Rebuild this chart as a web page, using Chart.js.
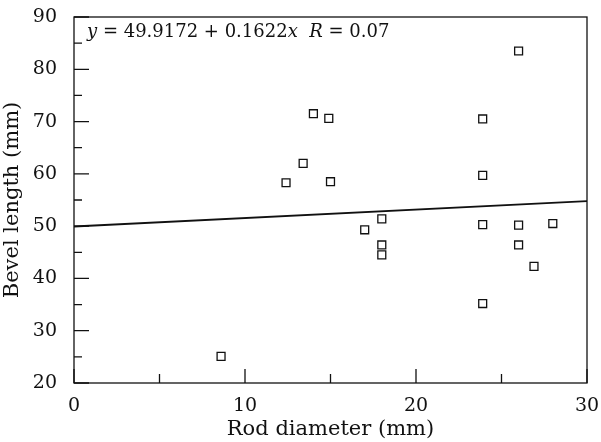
<!DOCTYPE html>
<html>
<head>
<meta charset="utf-8">
<script src="https://cdn.jsdelivr.net/npm/chart.js@4"></script>
<style>
  body { margin: 0; background: #fff; }
  #wrap { width: 601px; height: 442px; }
</style>
</head>
<body>
<div id="wrap"><canvas id="mycanvas" width="601" height="442"></canvas></div>
<script>
// rod diameter (mm) and bevel length (mm)
var rodDiameter = [8.6, 12.4, 13.4, 14.0, 14.9, 15.0, 17.0, 18.0, 18.0, 18.0, 23.9, 23.9, 23.9, 23.9, 26.0, 26.0, 26.0, 26.9, 28.0];
var bevelLength = [25.1, 58.3, 62.0, 71.5, 70.6, 58.5, 49.3, 51.4, 46.4, 44.5, 70.5, 59.7, 50.3, 35.2, 83.5, 50.2, 46.4, 42.3, 50.5];

// regression line from the caption
var intercept = 49.9172;
var slope = 0.1622;
var rValue = "0.07";

var xTicks = [0, 10, 20, 30];
var yTicks = [20, 30, 40, 50, 60, 70, 80, 90];

var points = [];
for (var i in rodDiameter) {
	points.push({x: rodDiameter[i], y: bevelLength[i]});
}
var fitLine = [
	{x: 0, y: intercept + slope * 0},
	{x: 30, y: intercept + slope * 30}
];

var serif = "'DejaVu Serif', serif";

// box, inward ticks and the equation text
var framePlugin = {
	id: 'frame',
	afterDraw: function(chart) {
		var c = chart.ctx, a = chart.chartArea;
		var xs = chart.scales.x, ys = chart.scales.y;
		c.save();
		c.strokeStyle = '#111';
		c.lineWidth = 1.3;
		c.strokeRect(a.left, a.top, a.right - a.left, a.bottom - a.top);
		c.beginPath();
		for (var v = 0; v <= 30; v += 5) {
			var px = xs.getPixelForValue(v);
			var len = (v % 10 === 0) ? 14 : 9;
			c.moveTo(px, a.bottom);
			c.lineTo(px, a.bottom - len);
		}
		for (var w = 20; w <= 90; w += 5) {
			var py = ys.getPixelForValue(w);
			var l2 = (w % 10 === 0) ? 15 : 8;
			c.moveTo(a.left, py);
			c.lineTo(a.left + l2, py);
		}
		c.stroke();

		var parts = [
			["italic", "y"], ["normal", " = " + intercept + " + " + slope], ["italic", "x"],
			["normal", "  "], ["italic", "R"], ["normal", " = " + rValue]
		];
		var tx = a.left + 13, ty = a.top + 20;
		c.fillStyle = '#111';
		c.textBaseline = 'alphabetic';
		for (var k in parts) {
			c.font = parts[k][0] + " 18px " + serif;
			c.fillText(parts[k][1], tx, ty);
			tx += c.measureText(parts[k][1]).width;
		}
		c.restore();
	}
};

var ctx = document.getElementById('mycanvas');
var chart = new Chart(ctx, {
	type: 'scatter',
	data: {
		datasets: [
		{
			label: "data",
			data: points,
			pointStyle: 'rect',
			pointRadius: 5.6,
			pointBorderWidth: 1.3,
			pointBorderColor: '#111',
			pointBackgroundColor: '#fff'
		},
		{
			label: "fit",
			type: 'line',
			data: fitLine,
			borderColor: '#111',
			borderWidth: 1.9,
			pointRadius: 0,
			fill: false
		}
		]
	},
	options: {
		responsive: false,
		animation: false,
		layout: { padding: { top: 17, right: 14, left: 0, bottom: 0 } },
		plugins: {
			legend: { display: false },
			tooltip: { enabled: false }
		},
		scales: {
			x: {
				type: 'linear',
				min: 0, max: 30,
				afterBuildTicks: function(s) { s.ticks = xTicks.map(function(v) { return {value: v}; }); },
				afterFit: function(s) { s.height = 59; s.paddingRight = 0; s.paddingLeft = 0; },
				grid: { display: false },
				border: { display: false },
				ticks: { color: '#111', padding: 4, font: { family: serif, size: 19 } },
				title: { display: true, text: 'Rod diameter (mm)', color: '#111', padding: { top: 0, bottom: 0 }, font: { family: serif, size: 21 } }
			},
			y: {
				type: 'linear',
				min: 20, max: 90,
				afterBuildTicks: function(s) { s.ticks = yTicks.map(function(v) { return {value: v}; }); },
				afterFit: function(s) { s.width = 74; s.paddingTop = 0; s.paddingBottom = 0; },
				grid: { display: false },
				border: { display: false },
				ticks: { color: '#111', padding: 9, font: { family: serif, size: 19 } },
				title: { display: true, text: 'Bevel length (mm)', color: '#111', padding: { top: 0, bottom: 1 }, font: { family: serif, size: 21 } }
			}
		}
	},
	plugins: [framePlugin]
});
</script>
</body>
</html>
